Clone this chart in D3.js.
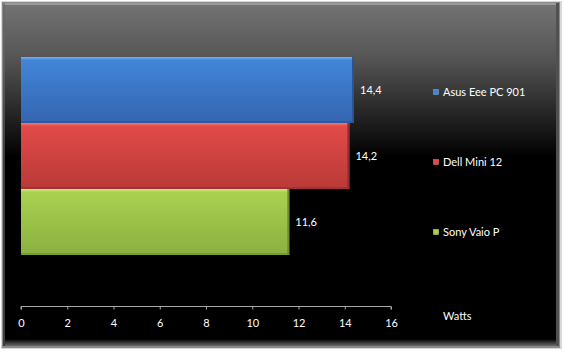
<!DOCTYPE html>
<html><head><meta charset="utf-8">
<script src="https://cdn.jsdelivr.net/npm/d3@7"></script>
<style>body{margin:0;background:#fff;}svg{display:block;}</style>
</head><body>
<svg id="c" width="564" height="353"></svg>
<script>
const series = ["Asus Eee PC 901", "Dell Mini 12", "Sony Vaio P"];
const values = [14.4, 14.2, 11.6];
const valueLabels = ["14,4", "14,2", "11,6"];
const ticks = [0, 2, 4, 6, 8, 10, 12, 14, 16];
const axisTitle = "Watts";
const colors = [
  {top:"#6fb0f5", a:"#4285d8", b:"#3465b0", edge:"#2a5494"},
  {top:"#f07a72", a:"#e24a48", b:"#b83a38", edge:"#962c2a"},
  {top:"#cce880", a:"#a9d150", b:"#8cb040", edge:"#6f8e2e"}
];

const svg = d3.select("#c");
const defs = svg.append("defs");
const font = "Lato, 'Open Sans', sans-serif";

// background gradient
const bg = defs.append("linearGradient").attr("id","bg").attr("x1",0).attr("y1",0).attr("x2",0).attr("y2",1);
bg.append("stop").attr("offset","0%").attr("stop-color","#747474");
bg.append("stop").attr("offset","16%").attr("stop-color","#555");
bg.append("stop").attr("offset","45%").attr("stop-color","#000");
bg.append("stop").attr("offset","100%").attr("stop-color","#000");

// outer shadow/frame
svg.append("rect").attr("x",1).attr("y",1).attr("width",561).attr("height",348).attr("fill","#d8d8d8");
svg.append("rect").attr("x",2).attr("y",2).attr("width",558).attr("height",346).attr("fill","#8a8a8a");
svg.append("rect").attr("x",3).attr("y",3).attr("width",556).attr("height",343).attr("fill","url(#bg)");
// top bevel highlight
svg.append("rect").attr("x",3).attr("y",3).attr("width",556).attr("height",2).attr("fill","#9a9a9a");
svg.append("rect").attr("x",3).attr("y",3).attr("width",2).attr("height",343).attr("fill","#666").attr("opacity",0.6);
// bottom bevel
const bb = defs.append("linearGradient").attr("id","bb").attr("x1",0).attr("y1",0).attr("x2",0).attr("y2",1);
bb.append("stop").attr("offset","0%").attr("stop-color","#000");
bb.append("stop").attr("offset","100%").attr("stop-color","#6a6a6a");
svg.append("rect").attr("x",5).attr("y",339).attr("width",552).attr("height",7).attr("fill","url(#bb)");
svg.append("rect").attr("x",556).attr("y",3).attr("width",3).attr("height",343).attr("fill","#505050");

// scales
const x = d3.scaleLinear().domain([0,16]).range([21,391]);
const y = d3.scaleBand().domain(series).range([57,255]).padding(0);

// bar gradients
colors.forEach((c,i)=>{
  const g = defs.append("linearGradient").attr("id","g"+i).attr("x1",0).attr("y1",0).attr("x2",0).attr("y2",1);
  g.append("stop").attr("offset","0%").attr("stop-color",c.top);
  g.append("stop").attr("offset","5%").attr("stop-color",c.a);
  g.append("stop").attr("offset","100%").attr("stop-color",c.b);
});

const bars = svg.append("g");
series.forEach((s,i)=>{
  const y0 = y(s), h = y.bandwidth(), w = x(values[i]) - x(0);
  bars.append("rect").attr("x",x(0)).attr("y",y0).attr("width",w).attr("height",h).attr("fill","url(#g"+i+")");
  bars.append("rect").attr("x",x(values[i])-2).attr("y",y0).attr("width",2).attr("height",h).attr("fill",colors[i].edge);
  bars.append("rect").attr("x",x(0)).attr("y",y0+h-2).attr("width",w).attr("height",2).attr("fill",colors[i].edge).attr("opacity",0.6);
  svg.append("text").attr("x",x(values[i])+6).attr("y",y0+h/2).attr("dy","0.35em")
    .attr("fill","#fff").attr("font-family",font).attr("font-size",11).text(valueLabels[i]);
});

// axis
const axisY = 306.5;
const ax = svg.append("g").attr("transform",`translate(0,${axisY})`)
  .call(d3.axisBottom(x).tickValues(ticks).tickSize(3).tickPadding(10).tickFormat(d3.format("d")));
ax.select(".domain").attr("stroke","#a8a8a8").attr("d",`M${x(0)},3V0H${x(16)}V3`);
ax.selectAll(".tick line").attr("stroke","#a8a8a8");
ax.selectAll("text").attr("fill","#fff").attr("font-family",font).attr("font-size",11);

svg.append("text").attr("x",443).attr("y",316).attr("dy","0.35em").attr("fill","#fff")
  .attr("font-family",font).attr("font-size",11).text(axisTitle);

// legend
const legY = [92, 162, 232];
series.forEach((s,i)=>{
  svg.append("rect").attr("x",433.5).attr("y",legY[i]-2.5).attr("width",5).attr("height",5)
    .attr("fill",colors[i].a).attr("stroke",colors[i].top).attr("stroke-width",0.5);
  svg.append("text").attr("x",443).attr("y",legY[i]).attr("dy","0.35em").attr("fill","#fff")
    .attr("font-family",font).attr("font-size",11).text(s);
});
</script>
</body></html>
